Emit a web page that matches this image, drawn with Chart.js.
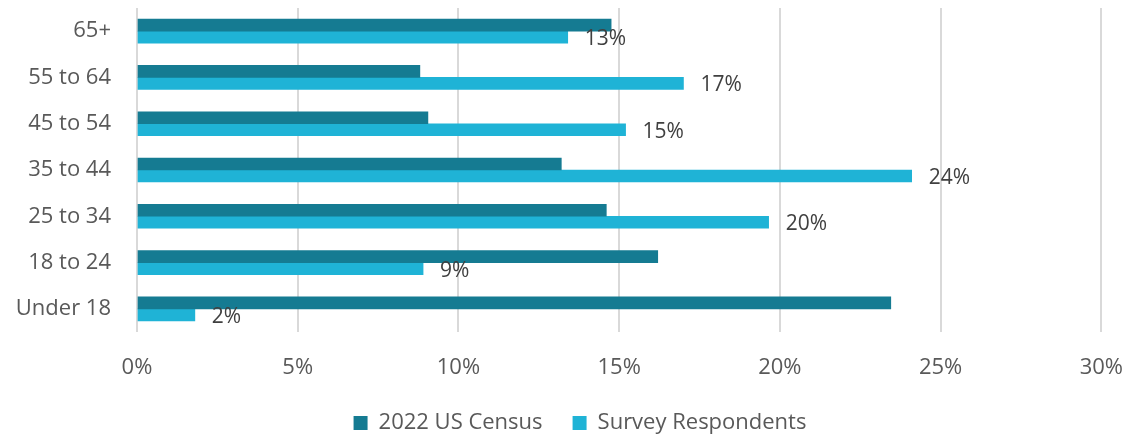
<!DOCTYPE html>
<html lang="en">
<head>
  <meta charset="UTF-8" />
  <title>Age distribution</title>
  <script src="https://cdn.jsdelivr.net/npm/chart.js"></script>
  <style>
    body { margin: 0; background: #fff; }
    #wrap { position: relative; width: 1146px; height: 436px; }
  </style>
</head>
<body>
<div id="wrap"><canvas id="ageChart"></canvas></div>
<script>
const ageGroups = ['65+', '55 to 64', '45 to 54', '35 to 44', '25 to 34', '18 to 24', 'Under 18'];
const censusValues = [14.75, 8.8, 9.05, 13.2, 14.6, 16.2, 23.45];
const surveyValues = [13.4, 17.0, 15.2, 24.1, 19.65, 8.9, 1.8];
const xTicks = [0, 5, 10, 15, 20, 25, 30];

const FONT = "'Open Sans', 'Noto Sans', sans-serif";

// labels at the end of the survey bars
const barLabels = {
  id: 'barLabels',
  afterInit(chart) {
    // keep the legend row low without eating into the plot
    const fit = chart.legend.fit;
    chart.legend.fit = function () {
      fit.call(this);
      this.height = 54;
    };
  },
  afterDatasetsDraw(chart) {
    const ctx = chart.ctx;
    const meta = chart.getDatasetMeta(1);
    ctx.save();
    ctx.font = '21px ' + FONT;
    ctx.fillStyle = '#404040';
    ctx.textAlign = 'left';
    ctx.textBaseline = 'middle';
    meta.data.forEach((bar, i) => {
      ctx.fillText(Math.round(surveyValues[i]) + '%', bar.x + 17, bar.y + 2);
    });
    ctx.restore();
  }
};

new Chart(document.getElementById('ageChart'), {
  type: 'bar',
  data: {
    labels: ageGroups,
    datasets: [
      { label: '2022 US Census', data: censusValues, backgroundColor: '#157b92', barThickness: 12 },
      { label: 'Survey Respondents', data: surveyValues, backgroundColor: '#1fb3d6', barThickness: 12 }
    ]
  },
  options: {
    indexAxis: 'y',
    responsive: true,
    maintainAspectRatio: false,
    animation: false,
    layout: { padding: { top: 8, right: 0, left: 14, bottom: 0 } },
    scales: {
      x: {
        min: 0,
        max: 30,
        afterBuildTicks(scale) { scale.ticks = xTicks.map(v => ({ value: v })); },
        afterFit(scale) { scale.height = 50; },
        ticks: {
          callback: v => v + '%',
          color: '#595959',
          font: { family: FONT, size: 22 },
          padding: 23
        },
        grid: { color: '#d9d9d9', lineWidth: 2, drawTicks: false },
        border: { display: false }
      },
      y: {
        afterFit(scale) {
          scale.width = 123;
          scale.paddingTop = 0;
          scale.paddingBottom = 0;
        },
        ticks: {
          color: '#595959',
          font: { family: FONT, size: 22 },
          padding: 26
        },
        grid: { display: false, drawTicks: false },
        border: { display: false }
      },
      // empty right-hand axis, only reserves the margin right of the plot
      yRight: {
        type: 'category',
        position: 'right',
        afterFit(scale) {
          scale.width = 44.5;
          scale.paddingTop = 0;
          scale.paddingBottom = 0;
        },
        ticks: { display: false },
        grid: { display: false, drawTicks: false },
        border: { display: false }
      }
    },
    plugins: {
      legend: {
        position: 'bottom',
        labels: {
          boxWidth: 14,
          boxHeight: 14,
          color: '#595959',
          font: { family: FONT, size: 22 },
          padding: 30
        }
      },
      tooltip: { enabled: false }
    }
  },
  plugins: [barLabels]
});
</script>
</body>
</html>
